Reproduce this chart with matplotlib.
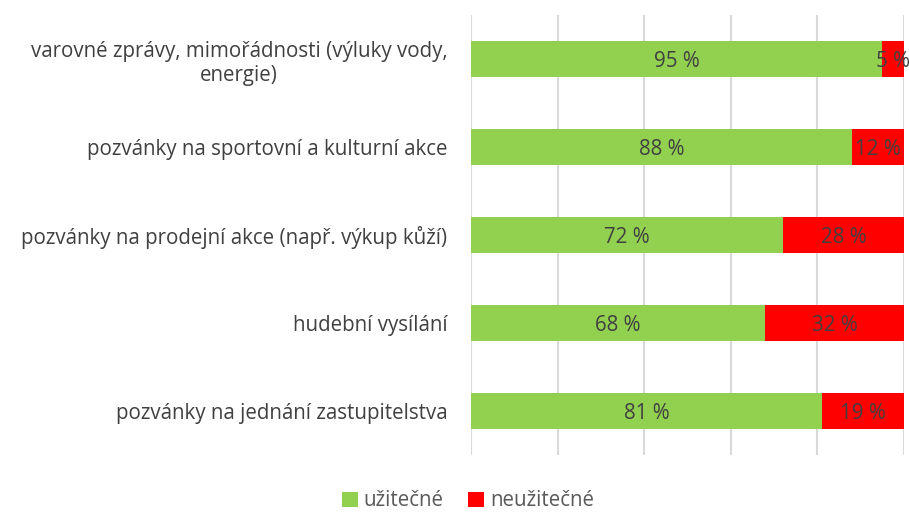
import matplotlib
matplotlib.use("Agg")
import matplotlib.pyplot as plt

categories = [
    "varovné zprávy, mimořádnosti (výluky vody,\nenergie)",
    "pozvánky na sportovní a kulturní akce",
    "pozvánky na prodejní akce (např. výkup kůží)",
    "hudební vysílání",
    "pozvánky na jednání zastupitelstva",
]
useful = [95, 88, 72, 68, 81]
useless = [5, 12, 28, 32, 19]
series_names = ["užitečné", "neužitečné"]
colors = ["#92D050", "#FF0000"]

plt.rcParams['font.family'] = ['Open Sans', 'DejaVu Sans']
FS = 14.8

fig = plt.figure(figsize=(9.09, 5.13), dpi=100)
ax = fig.add_axes([471/909, 1 - 455/513, (904-471)/909, 440/513])

y = list(range(len(categories)))
b1 = ax.barh(y, useful, height=0.4, color=colors[0], label=series_names[0], zorder=3)
b2 = ax.barh(y, useless, left=useful, height=0.4, color=colors[1], label=series_names[1], zorder=3)

for i in y:
    ax.text(useful[i] / 2, i + 0.03, f"{useful[i]} %", ha="center", va="center",
            fontsize=FS, color="#404040", zorder=4)
    ax.text(useful[i] + useless[i] / 2, i + 0.03, f"{useless[i]} %", ha="center", va="center",
            fontsize=FS, color="#404040", zorder=4)

ax.set_xlim(0, 100)
ax.set_ylim(len(categories) - 0.5, -0.5)
ax.set_xticks([0, 20, 40, 60, 80, 100])
ax.set_xticklabels([])
ax.tick_params(axis="x", length=0)
ax.grid(axis="x", color="#D9D9D9", linewidth=1.5, zorder=0)
ax.set_yticks(y)
ax.set_yticklabels(categories, fontsize=FS, color="#404040", ha="right")
ax.tick_params(axis="y", length=0, pad=17)
for lbl in ax.get_yticklabels():
    lbl.set_multialignment("center")
for s in ax.spines.values():
    s.set_visible(False)

fig.legend(handles=[b1, b2], labels=series_names, loc="center",
           bbox_to_anchor=(468/909, 1 - 501/513), ncol=2, frameon=False,
           fontsize=FS, handlelength=0.75, handleheight=0.75, handletextpad=0.3,
           columnspacing=1.2, labelcolor="#595959", borderpad=0.1)

fig.savefig("out.png", dpi=100)
